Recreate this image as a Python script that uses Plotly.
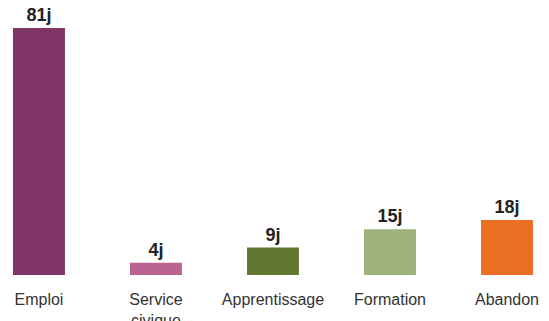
import plotly.graph_objects as go

# durées médianes (en jours)
categories = ['Emploi', 'Service<br>civique', 'Apprentissage', 'Formation', 'Abandon']
valeurs = [81, 4, 9, 15, 18]
etiquettes = ['81j', '4j', '9j', '15j', '18j']
couleurs = ['#7f3667', '#bb6491', '#627730', '#9fb27c', '#ec7023']

fig = go.Figure(go.Bar(
    x=categories, y=valeurs, text=etiquettes,
    marker_color=couleurs, marker_line_width=0,
    textposition='outside', cliponaxis=False,
    textfont=dict(size=18, color='#222222', family='Liberation Sans'),
    texttemplate='<b>%{text}</b>', width=0.444,
))

fig.update_layout(
    width=549, height=321,
    margin=dict(l=0, r=0, t=28, b=46),
    paper_bgcolor='white', plot_bgcolor='white',
    showlegend=False,
    font=dict(family='Liberation Sans', color='#333333', size=14),
)
fig.update_xaxes(range=[-0.333, 4.359], showgrid=False, showline=False,
                 automargin=False,
                 ticks='outside', ticklen=10, tickcolor='rgba(0,0,0,0)',
                 tickfont=dict(size=16, color='#333333'))
fig.update_yaxes(range=[0, 81], visible=False, automargin=False)

# pas de marge autour du graphique dans la page
fig.write_html('out.html', config={'displayModeBar': False},
               post_script="document.body.style.margin='0';")
